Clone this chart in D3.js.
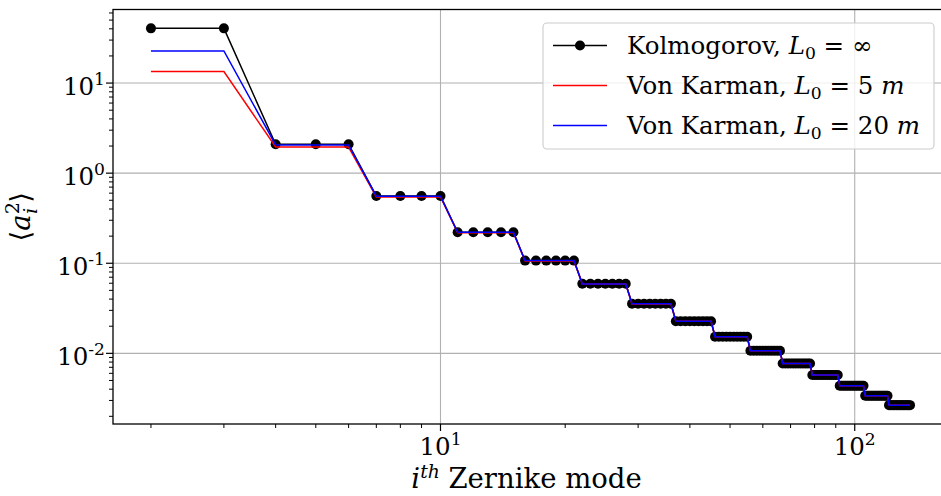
<!DOCTYPE html>
<html><head><meta charset="utf-8">
<script src="https://cdn.jsdelivr.net/npm/d3@7"></script>
<style>
html,body{margin:0;padding:0;background:#fff;}
svg{display:block;}
</style></head>
<body>
<svg id="chart" width="941" height="496"></svg>
<script>
// ---- data ----
const radialOrders = [1,2,3,4,5,6,7,8,9,10,11,12,13,14,15];
const kolmogorov   = [40.5, 2.09, 0.558, 0.221, 0.107, 0.0591, 0.0355, 0.0227, 0.0153, 0.0107, 0.00773, 0.00574, 0.00436, 0.00338, 0.00266];
const vonKarman5   = [13.4, 1.95, 0.545, 0.218, 0.106, 0.0588, 0.0354, 0.0227, 0.0153, 0.0107, 0.00773, 0.00574, 0.00436, 0.00338, 0.00266];
const vonKarman20  = [22.7, 2.06, 0.555, 0.2205, 0.107, 0.0590, 0.0355, 0.0227, 0.0153, 0.0107, 0.00773, 0.00574, 0.00436, 0.00338, 0.00266];
const xTickLabels = [{v:10,b:"10",e:"1"},{v:100,b:"10",e:"2"}];
const yTickLabels = [{v:10,b:"10",e:"1"},{v:1,b:"10",e:"0"},{v:0.1,b:"10",e:"-1"},{v:0.01,b:"10",e:"-2"}];
const legendItems = [
  {name:"Kolmogorov, ", lsub:"0", rest:" = ∞", unit:"", color:"#000", marker:true},
  {name:"Von Karman, ", lsub:"0", rest:" = 5 ", unit:"m", color:"#ff0000", marker:false},
  {name:"Von Karman, ", lsub:"0", rest:" = 20 ", unit:"m", color:"#0000ff", marker:false}
];

// expand per-radial-order values to Noll mode indices (mode 1 = piston excluded)
function expand(vals){
  const out=[]; let j=2;
  radialOrders.forEach((n,k)=>{ for(let m=0;m<=n;m++){ out.push({i:j++, v:vals[k]}); } });
  return out;
}
const sK = expand(kolmogorov), s5 = expand(vonKarman5), s20 = expand(vonKarman20);

// ---- layout ----
const FONT = "'DejaVu Serif', 'Liberation Serif', serif";
const svg = d3.select("#chart").attr("font-family", FONT);
const L=113, T=9.5, R=948, B=424;
const fs = 24.5, fsLab = 27.5;

function txt(sel,size){ return sel.append("text").attr("font-family",FONT).attr("fill","#000").attr("font-size",size||fs); }

function logMargins(lo,hi){
  const a=Math.log10(lo), b=Math.log10(hi), r=b-a;
  return [Math.pow(10,a-0.05*r), Math.pow(10,b+0.05*r)];
}
const allI = sK.map(d=>d.i);
const allV = sK.concat(s5,s20).map(d=>d.v);
const x = d3.scaleLog().domain(logMargins(d3.min(allI), d3.max(allI))).range([L,R]);
const y = d3.scaleLog().domain(logMargins(d3.min(allV), d3.max(allV))).range([B,T]);

// grid
const gridCol="#b0b0b0";
const g = svg.append("g");
svg.append("clipPath").attr("id","clip").append("rect").attr("x",L).attr("y",T).attr("width",R-L).attr("height",B-T);
g.selectAll(".gx").data(xTickLabels).enter().append("line")
  .attr("x1",d=>x(d.v)).attr("x2",d=>x(d.v)).attr("y1",T).attr("y2",B)
  .attr("stroke",gridCol).attr("stroke-width",1.1);
g.selectAll(".gy").data(yTickLabels).enter().append("line")
  .attr("y1",d=>y(d.v)).attr("y2",d=>y(d.v)).attr("x1",L).attr("x2",R)
  .attr("stroke",gridCol).attr("stroke-width",1.1);

// series
const plot = svg.append("g").attr("clip-path","url(#clip)");
const line = d3.line().x(d=>x(d.i)).y(d=>y(d.v));
plot.append("path").datum(sK).attr("d",line).attr("fill","none").attr("stroke","#000").attr("stroke-width",1.5);
plot.selectAll(".mk").data(sK).enter().append("circle")
  .attr("cx",d=>x(d.i)).attr("cy",d=>y(d.v)).attr("r",5).attr("fill","#000");
plot.append("path").datum(s5).attr("d",line).attr("fill","none").attr("stroke","#ff0000").attr("stroke-width",1.5);
plot.append("path").datum(s20).attr("d",line).attr("fill","none").attr("stroke","#0000ff").attr("stroke-width",1.5);

// ticks
const ax = svg.append("g");
const [xlo,xhi]=x.domain(), [ylo,yhi]=y.domain();
function minorTicks(lo,hi){
  const t=[];
  for(let e=Math.floor(Math.log10(lo));e<=Math.ceil(Math.log10(hi));e++){
    for(let m=2;m<=9;m++){const v=m*Math.pow(10,e); if(v>=lo&&v<=hi) t.push(v);}
  }
  return t;
}
minorTicks(xlo,xhi).forEach(v=>ax.append("line").attr("x1",x(v)).attr("x2",x(v)).attr("y1",B).attr("y2",B+4).attr("stroke","#000").attr("stroke-width",1));
minorTicks(ylo,yhi).forEach(v=>ax.append("line").attr("y1",y(v)).attr("y2",y(v)).attr("x1",L).attr("x2",L-4).attr("stroke","#000").attr("stroke-width",1));
xTickLabels.forEach(d=>{
  ax.append("line").attr("x1",x(d.v)).attr("x2",x(d.v)).attr("y1",B).attr("y2",B+7).attr("stroke","#000").attr("stroke-width",1.2);
  const t=txt(ax).attr("x",x(d.v)).attr("y",B+31).attr("text-anchor","middle");
  t.append("tspan").text(d.b);
  t.append("tspan").attr("dy",-10).attr("font-size",fs*0.7).text(d.e);
});
yTickLabels.forEach(d=>{
  ax.append("line").attr("y1",y(d.v)).attr("y2",y(d.v)).attr("x1",L).attr("x2",L-7).attr("stroke","#000").attr("stroke-width",1.2);
  const t=txt(ax).attr("x",L-8).attr("y",y(d.v)+12).attr("text-anchor","end");
  t.append("tspan").text(d.b);
  t.append("tspan").attr("dy",-10).attr("font-size",fs*0.7).text(d.e);
});

// spines
svg.append("rect").attr("x",L).attr("y",T).attr("width",R-L).attr("height",B-T)
  .attr("fill","none").attr("stroke","#000").attr("stroke-width",1.3);

// axis labels
const xl = txt(svg,fsLab).attr("x",(L+R)/2 - 4).attr("y",488).attr("text-anchor","middle");
xl.append("tspan").attr("font-style","italic").text("i");
xl.append("tspan").attr("dy",-10).attr("font-size",fsLab*0.68).attr("font-style","italic").text("th");
xl.append("tspan").attr("dy",10).text(" Zernike mode");

const yl = txt(svg,fsLab).attr("transform",`translate(30,${(T+B)/2}) rotate(-90)`).attr("text-anchor","middle");
yl.append("tspan").text("⟨");
yl.append("tspan").attr("font-style","italic").text("a");
yl.append("tspan").attr("dy",-11).attr("font-size",fsLab*0.7).text("2");
yl.append("tspan").attr("dx",-12).attr("dy",18).attr("font-size",fsLab*0.7).attr("font-style","italic").text("i");
yl.append("tspan").attr("dy",-7).attr("dx",5).text("⟩");

// legend
const lg = svg.append("g");
lg.append("rect").attr("x",543).attr("y",23).attr("width",391).attr("height",126).attr("rx",4)
  .attr("fill","#fff").attr("fill-opacity",0.8).attr("stroke","#cccccc").attr("stroke-width",1.1);
legendItems.forEach((d,k)=>{
  const cy = 45.5 + k*40;
  lg.append("line").attr("x1",553).attr("x2",607).attr("y1",cy).attr("y2",cy).attr("stroke",d.color).attr("stroke-width",1.5);
  if(d.marker) lg.append("circle").attr("cx",580).attr("cy",cy).attr("r",5).attr("fill",d.color);
  const t = txt(lg).attr("x",627).attr("y",cy+8);
  t.append("tspan").text(d.name);
  t.append("tspan").attr("font-style","italic").text("L");
  t.append("tspan").attr("dy",5).attr("font-size",fs*0.7).text(d.lsub);
  t.append("tspan").attr("dy",-5).text(d.rest);
  if(d.unit) t.append("tspan").attr("font-style","italic").text(d.unit);
});
</script>
</body></html>
